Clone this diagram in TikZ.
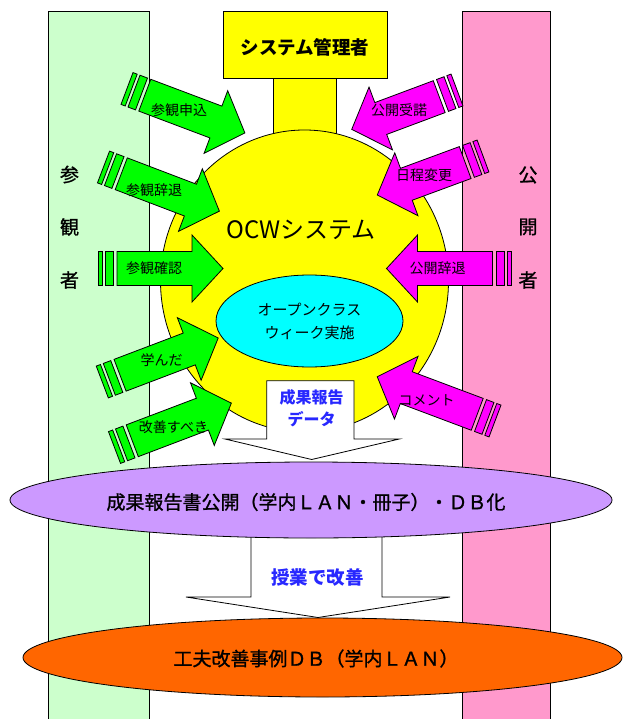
\documentclass[tikz,border=0pt]{standalone}
\usepackage{fontspec}
\setmainfont{Noto Sans CJK JP}
\newfontfamily\jpmed[FakeBold=1.2]{Noto Sans CJK JP}
\usetikzlibrary{shapes.geometric}
\definecolor{barG}{HTML}{CCFFCC}
\definecolor{barP}{HTML}{FF99CC}
\definecolor{sysY}{HTML}{FFFF00}
\definecolor{owCyan}{HTML}{00FFFF}
\definecolor{arG}{HTML}{00FF00}
\definecolor{arM}{HTML}{FF00FF}
\definecolor{ellP}{HTML}{CC99FF}
\definecolor{ellO}{HTML}{FF6600}
\definecolor{txtB}{HTML}{2828FF}
% striped block arrow: #1 tail x, #2 tail y, #3 angle (image, y down), #4 length, #5 colour
\newcommand\sarrow[5]{%
  \begin{scope}[shift={(#1,#2)}, rotate={-(#3)}]
    \draw[outl,fill=#5] (0,-17) rectangle (4.5,17);
    \draw[outl,fill=#5] (7.5,-17) rectangle (15.5,17);
    \draw[outl,fill=#5] (19,-17) -- ({#4-31},-17) -- ({#4-31},-33.5) -- (#4,0)
      -- ({#4-31},33.5) -- ({#4-31},17) -- (19,17) -- cycle;
  \end{scope}}
\begin{document}
\begin{tikzpicture}[x=1pt,y=-1pt,
  outl/.style={draw=black,line width=0.8pt},
  arlbl/.style={inner sep=0pt,font=\fontsize{14}{16}\selectfont},
  barlbl/.style={inner sep=0pt,font=\jpmed\fontsize{19}{21}\selectfont},
  bigtxt/.style={inner sep=0pt,font=\jpmed\fontsize{19}{21}\selectfont},
  bluetxt/.style={inner sep=0pt,text=txtB,font=\bfseries\fontsize{16}{22.5}\selectfont,align=center},
  oval/.style={ellipse,outl,inner sep=0pt}]
\clip (0,0) rectangle (623,719);
\fill[white] (0,0) rectangle (623,719);
% side bars
\draw[outl,fill=barG] (48,11) rectangle (149,740);
\draw[outl,fill=barP] (462,11) rectangle (550,740);
\node[barlbl] (v1) at (69.5,174.5) {参};
\node[barlbl] (v2) at (69.5,227) {観};
\node[barlbl] (v3) at (69.5,280) {者};
\node[barlbl] (k1) at (528,175) {公};
\node[barlbl] (k2) at (528,227) {開};
\node[barlbl] (k3) at (528,280) {者};
% system administrator and OCW system
\draw[outl,fill=sysY] (273,70) rectangle (336,200);
\node[oval,fill=sysY,minimum width=288pt,minimum height=302pt] (ocw) at (304.5,281) {};
\node[draw=black,line width=0.8pt,fill=sysY,minimum width=164pt,minimum height=67pt,inner sep=0pt] (adm) at (305,44.5) {};
\node[inner sep=0pt,font=\bfseries\fontsize{18.5}{20}\selectfont] (admt) at (305,47) {システム管理者};
\node[inner sep=0pt,font=\fontsize{24}{26}\selectfont] (ocwt) at (301,230) {OCWシステム};
\node[oval,fill=owCyan,minimum width=187pt,minimum height=92pt,font=\fontsize{15}{23}\selectfont,align=center] (ocwk) at (309.5,321) {オープンクラス\\ウィーク実施};
% result data arrow
\draw[outl,fill=white] (266.7,380.7) -- (354,380.7) -- (354,439) -- (399.3,439) -- (311.7,459.5)
  -- (225,439) -- (266.7,439) -- cycle;
\node[bluetxt] (data) at (311.7,408) {成果報告\\データ};
% improvement arrow
\draw[outl,fill=white] (251,520) -- (382,520) -- (382,597) -- (450,597) -- (318,617.5)
  -- (186,597) -- (251,597) -- cycle;
\node[inner sep=0pt,text=txtB,font=\bfseries\fontsize{18.5}{20}\selectfont] (kaizen) at (317.5,577) {授業で改善};
% visitor arrows
\sarrow{127}{88.5}{20.66}{126}{arG}
\sarrow{103.5}{167}{20.85}{124}{arG}
\sarrow{98}{268.5}{0}{125}{arG}
\sarrow{102.3}{382}{-20.8}{124}{arG}
\sarrow{114.5}{447.5}{-20.8}{125}{arG}
% publisher arrows
\sarrow{457}{90}{159.5}{112.4}{arM}
\sarrow{483}{156}{159.75}{112.7}{arM}
\sarrow{511.5}{268.5}{180}{125}{arM}
\sarrow{495}{421}{200.6}{125.8}{arM}
\node[arlbl] (a1) at (179,110) {参観申込};
\node[arlbl] (a2) at (154,190) {参観辞退};
\node[arlbl] (a3) at (154,268) {参観確認};
\node[arlbl] (a4) at (161.5,360) {学んだ};
\node[arlbl] (a5) at (173.5,427) {改善すべき};
\node[arlbl] (b1) at (399,110) {公開受諾};
\node[arlbl] (b2) at (424,175.5) {日程変更};
\node[arlbl] (b3) at (437.5,268) {公開辞退};
\node[arlbl] (b4) at (426.5,400) {コメント};
% result publication and database
\node[oval,fill=ellP,minimum width=602pt,minimum height=76pt] (pub) at (311,500) {};
\node[bigtxt] (pubt) at (306,502) {成果報告書公開（学内ＬＡＮ・冊子）・ＤＢ化};
\node[oval,fill=ellO,minimum width=599pt,minimum height=79pt] (db) at (322.5,657.5) {};
\node[bigtxt] (dbt) at (316,658.5) {工夫改善事例ＤＢ（学内ＬＡＮ）};
\end{tikzpicture}
\end{document}
